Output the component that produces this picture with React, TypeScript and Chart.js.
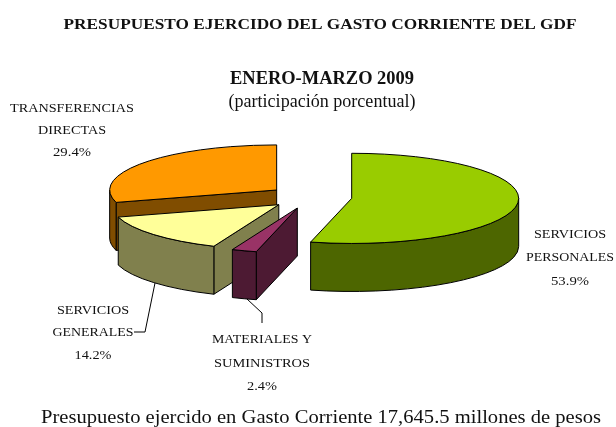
import React, { useEffect, useRef } from "react";
import { Chart, registerables } from "chart.js";

Chart.register(...registerables);

const categories = ["SERVICIOS PERSONALES", "MATERIALES Y SUMINISTROS", "SERVICIOS GENERALES", "TRANSFERENCIAS DIRECTAS"];
const shares = [53.9, 2.4, 14.2, 29.4];
const faceColors = ["#99CC00", "#993366", "#FFFF99", "#FF9900"];
const wallColors = ["#4D6600", "#4D1A33", "#80804D", "#804D00"];
const explodePx = [41, 43, 43, 43];
const paintOrder = [3, 2, 1, 0];

const TILT = 0.27;
const DEPTH = 48;
const SERIF = '"Liberation Serif", serif';

const titleLines = [
  { t: "PRESUPUESTO EJERCIDO DEL GASTO CORRIENTE DEL GDF", x: 320, y: 29, f: `bold 14px ${SERIF}`, w: 513 },
  { t: "ENERO-MARZO 2009", x: 322, y: 84, f: `bold 18px ${SERIF}`, w: 184 },
  { t: "(participación porcentual)", x: 322, y: 107, f: `18px ${SERIF}`, w: 187 },
  { t: "Presupuesto ejercido en Gasto Corriente 17,645.5 millones de pesos", x: 321, y: 423, f: `18.5px ${SERIF}`, w: 560 },
];
const labelLines = [
  { t: "TRANSFERENCIAS", x: 72, y: 112, w: 124 },
  { t: "DIRECTAS", x: 72, y: 134, w: 68 },
  { t: "29.4%", x: 72, y: 156, w: 38 },
  { t: "SERVICIOS", x: 570, y: 238, w: 72 },
  { t: "PERSONALES", x: 570, y: 261, w: 88 },
  { t: "53.9%", x: 570, y: 285, w: 38 },
  { t: "SERVICIOS", x: 93, y: 314, w: 72 },
  { t: "GENERALES", x: 93, y: 336, w: 81 },
  { t: "14.2%", x: 93, y: 359, w: 37 },
  { t: "MATERIALES Y", x: 262, y: 343, w: 100 },
  { t: "SUMINISTROS", x: 262, y: 367, w: 96 },
  { t: "2.4%", x: 262, y: 390, w: 30 },
];
const leaders = [
  [[155, 283], [145, 332], [134, 332]],
  [[247, 299], [262, 313], [262, 323]],
];

const pie3d = {
  id: "pie3d",
  beforeDatasetDraw(chart: any) {
    const ctx = chart.ctx;
    const arcs = chart.getDatasetMeta(0).data;
    for (const i of paintOrder) {
      const arc = arcs[i];
      const { x, y, startAngle: a0, endAngle: a1, outerRadius: R } = arc.getProps(["x", "y", "startAngle", "endAngle", "outerRadius"], true);
      const mid = (a0 + a1) / 2;
      const cx = x + Math.cos(mid) * explodePx[i];
      const cy = y + Math.sin(mid) * explodePx[i] * TILT;
      const px = (a: number) => cx + R * Math.cos(a);
      const py = (a: number) => cy + R * TILT * Math.sin(a);

      ctx.save();
      ctx.lineWidth = 1;
      ctx.lineJoin = "round";
      ctx.strokeStyle = "#000";
      ctx.fillStyle = wallColors[i];

      // visible radial walls
      for (const [a, n] of [[a0, a0 - Math.PI / 2], [a1, a1 + Math.PI / 2]]) {
        if (Math.sin(n) > 0.01) {
          ctx.beginPath();
          ctx.moveTo(cx, cy);
          ctx.lineTo(px(a), py(a));
          ctx.lineTo(px(a), py(a) + DEPTH);
          ctx.lineTo(cx, cy + DEPTH);
          ctx.closePath();
          ctx.fill();
          ctx.stroke();
        }
      }

      // visible outer wall
      const from = Math.max(a0, 0);
      const to = Math.min(a1, Math.PI);
      if (to > from) {
        ctx.beginPath();
        ctx.ellipse(cx, cy, R, R * TILT, 0, from, to);
        ctx.ellipse(cx, cy + DEPTH, R, R * TILT, 0, to, from, true);
        ctx.closePath();
        ctx.fill();
        ctx.stroke();
      }

      // top face, drawn by the element itself in the tilted plane
      ctx.save();
      ctx.translate(cx, cy);
      ctx.scale(1, TILT);
      ctx.translate(-x, -y);
      arc.draw(ctx);
      ctx.restore();

      ctx.beginPath();
      ctx.moveTo(cx, cy);
      ctx.ellipse(cx, cy, R, R * TILT, 0, a0, a1);
      ctx.closePath();
      ctx.stroke();
      ctx.restore();
    }
    return false;
  },
  afterDraw(chart: any) {
    const ctx = chart.ctx;
    ctx.save();
    ctx.fillStyle = "#111";
    ctx.textAlign = "left";
    ctx.textBaseline = "alphabetic";
    const put = (t: string, x: number, y: number, f: string, w: number) => {
      ctx.font = f;
      const natural = ctx.measureText(t).width;
      ctx.save();
      ctx.translate(x - w / 2, y);
      ctx.scale(w / natural, 1);
      ctx.fillText(t, 0, 0);
      ctx.restore();
    };
    for (const l of titleLines) put(l.t, l.x, l.y, l.f, l.w);
    for (const l of labelLines) put(l.t, l.x, l.y, `13.5px ${SERIF}`, l.w);
    ctx.strokeStyle = "#000";
    ctx.lineWidth = 1;
    for (const pts of leaders) {
      ctx.beginPath();
      pts.forEach(([x, y], k) => (k ? ctx.lineTo(x, y) : ctx.moveTo(x, y)));
      ctx.stroke();
    }
    ctx.restore();
  },
};

export default function App() {
  const ref = useRef<HTMLCanvasElement>(null);
  useEffect(() => {
    const chart = new Chart(ref.current!, {
      type: "pie",
      data: {
        labels: categories,
        datasets: [{ data: shares, backgroundColor: faceColors, borderWidth: 0 }],
      },
      options: {
        animation: false,
        responsive: false,
        radius: 167,
        layout: { padding: { left: 6, bottom: 33 } },
        plugins: { legend: { display: false }, title: { display: false }, tooltip: { enabled: false } },
      } as any,
      plugins: [pie3d],
    });
    return () => chart.destroy();
  }, []);
  return (
    <div style={{ position: "fixed", left: 0, top: 0, width: 616, height: 427, background: "#fff" }}>
      <canvas ref={ref} width={616} height={427} style={{ display: "block" }} />
    </div>
  );
}
